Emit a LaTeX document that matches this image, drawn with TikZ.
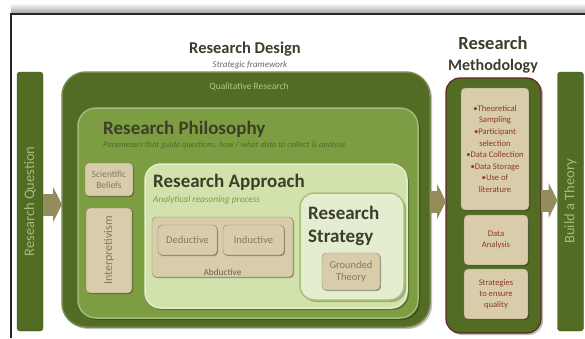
\documentclass[tikz,border=0pt]{standalone}
\usepackage{fontspec}
\setmainfont{Carlito}
\usetikzlibrary{arrows.meta}
\usetikzlibrary{shadows}
\definecolor{dgreen}{RGB}{82,108,36}
\definecolor{mgreen}{RGB}{125,157,66}
\definecolor{lgreen}{RGB}{210,226,172}
\definecolor{pgreen}{RGB}{228,237,208}
\definecolor{tan}{RGB}{216,204,170}
\definecolor{tanline}{RGB}{142,133,104}
\definecolor{tantext}{RGB}{130,122,100}
\definecolor{rust}{RGB}{139,58,42}
\definecolor{olive}{RGB}{148,140,90}
\definecolor{ink}{RGB}{60,62,42}

\tikzset{
  panel/.style={rectangle, inner sep=0pt, outer sep=0pt,
    drop shadow={shadow xshift=2pt, shadow yshift=-2pt, fill=black, opacity=0.25}},
  bar/.style={rectangle, rounded corners=3pt, fill=dgreen, draw=dgreen!80!black,
    inner sep=0pt, outer sep=0pt, minimum width=26pt, minimum height=259pt,
    text=lgreen!65!dgreen, font=\fontsize{14.5}{16}\selectfont},
  tanbox/.style={rectangle, rounded corners=4pt, fill=tan, draw=tanline,
    inner sep=1pt, outer sep=0pt, align=center, text=tantext,
    font=\fontsize{10.5}{12}\selectfont,
    drop shadow={shadow xshift=1pt, shadow yshift=-1pt, fill=black, opacity=0.35}},
  methbox/.style={tanbox, text=rust, minimum width=64pt, minimum height=50pt,
    font=\fontsize{8.6}{11.5}\selectfont},
  title/.style={font=\fontsize{19}{21}\selectfont\bfseries, text=ink, inner sep=0pt},
  subtitle/.style={font=\fontsize{8.5}{10}\selectfont\itshape, inner sep=0pt},
  fatarrow/.style={draw=olive, line width=22pt, -{Triangle[width=35pt,length=9pt]}}
}

\begin{document}
\begin{tikzpicture}[x=1pt, y=-1pt]
  \useasboundingbox (0,0) rectangle (585,338);

  % frame and its shadow
  \shade[top color=white, bottom color=black!35] (11,3) rectangle (585,13);
  \draw[line width=1.5pt, black!85] (11,338) -- (11,14) -- (585,14);

  % outer bars
  \node[bar] (rq) at (30,201.5) {\rotatebox{90}{Research Question}};
  \node[bar] (theory) at (570.5,201.5) {\rotatebox{90}{Build a Theory}};

  % research design
  \node[title, anchor=base, font=\fontsize{16.5}{18}\selectfont\bfseries] (designtitle)
    at (245,53) {Research Design};
  \node[subtitle, anchor=base, text=black!60, font=\fontsize{9}{10}\selectfont\itshape]
    (designsub) at (250,67) {Strategic framework};
  \node[panel, rounded corners=24pt, fill=dgreen, draw=dgreen!80!white, line width=1.5pt,
    minimum width=368pt, minimum height=255pt] (design) at (246,199.5) {};
  \node[font=\fontsize{9.5}{11}\selectfont, text=lgreen!75!dgreen, inner sep=0pt,
    anchor=base] (qual) at (249,89) {Qualitative Research};

  % research philosophy
  \node[panel, rounded corners=18pt, fill=mgreen, draw=mgreen!70!white, line width=1.5pt,
    minimum width=340pt, minimum height=210pt] (philo) at (248,213) {};
  \node[title, anchor=base west] (philotitle) at (103,134) {Research Philosophy};
  \node[subtitle, anchor=base west, text=dgreen] (philosub) at (103,147)
    {Parameters that guide questions, how / what data to collect \& analyse};
  \node[tanbox, minimum width=48pt, minimum height=33pt,
    font=\fontsize{9.5}{11}\selectfont] (beliefs) at (109,179.5) {Scientific\\Beliefs};
  \node[tanbox, minimum width=46pt, minimum height=85pt,
    font=\fontsize{12}{14}\selectfont] (interp) at (109,250.5)
    {\rotatebox{90}{Interpretivism}};

  % research approach
  \node[panel, rounded corners=16pt, fill=lgreen, draw=pgreen, line width=1.5pt,
    minimum width=262pt, minimum height=144pt] (approach) at (276,236) {};
  \node[title, anchor=base west] (apptitle) at (153,187) {Research Approach};
  \node[subtitle, anchor=base west, text=mgreen, font=\fontsize{9.3}{10}\selectfont\itshape]
    (appsub) at (153,202) {Analytical reasoning process};
  \node[tanbox, minimum width=141pt, minimum height=60pt] (abduct) at (222.5,247) {};
  \node[text=tantext!80!black, font=\fontsize{9.3}{10}\selectfont, inner sep=0pt]
    (abductlabel) at (222.5,272) {Abductive};
  \node[tanbox, minimum width=59pt, minimum height=30pt] (deduct) at (187.5,240) {Deductive};
  \node[tanbox, minimum width=61pt, minimum height=30pt] (induct) at (253.5,240) {Inductive};

  % research strategy
  \node[panel, rounded corners=14pt, fill=pgreen, draw=mgreen!50!lgreen, line width=1.5pt,
    minimum width=104pt, minimum height=107pt] (strategy) at (352,246.5) {};
  \node[title, anchor=base west] (strattitle) at (308,219) {Research};
  \node[title, anchor=base west] (strattitle2) at (308,242) {Strategy};
  \node[tanbox, minimum width=58pt, minimum height=37pt] (grounded) at (351,271.5)
    {Grounded\\Theory};

  % research methodology
  \node[title, anchor=base, font=\fontsize{18.5}{20}\selectfont\bfseries] (methtitle)
    at (493,49) {Research};
  \node[title, anchor=base, font=\fontsize{16}{18}\selectfont\bfseries] (methtitle2)
    at (493,70) {Methodology};
  \node[panel, rounded corners=14pt, fill=dgreen, draw=rust!70!black, line width=1.2pt,
    minimum width=95pt, minimum height=255pt] (meth) at (493.5,205.5) {};
  \node[methbox, minimum width=68pt, minimum height=122pt,
    font=\fontsize{8.6}{11.6}\selectfont] (steps) at (495,149)
    {\textbullet Theoretical\\Sampling\\\textbullet Participant\\selection\\
     \textbullet Data Collection\\\textbullet Data Storage\\\textbullet Use of\\literature};
  \node[methbox] (analysis) at (496,240) {Data\\Analysis};
  \node[methbox, font=\fontsize{8.6}{11}\selectfont] (quality) at (496,294)
    {Strategies\\to ensure\\quality};

  % flow arrows
  \draw[fatarrow] ([yshift=-3pt]rq.east) -- ([yshift=-3pt]rq.east -| design.west);
  \draw[fatarrow] ([yshift=-2pt]design.east) -- ([yshift=-2pt]design.east -| meth.west);
  \draw[fatarrow] ([yshift=5pt]meth.east) -- ([yshift=5pt]meth.east -| theory.west);
\end{tikzpicture}
\end{document}
